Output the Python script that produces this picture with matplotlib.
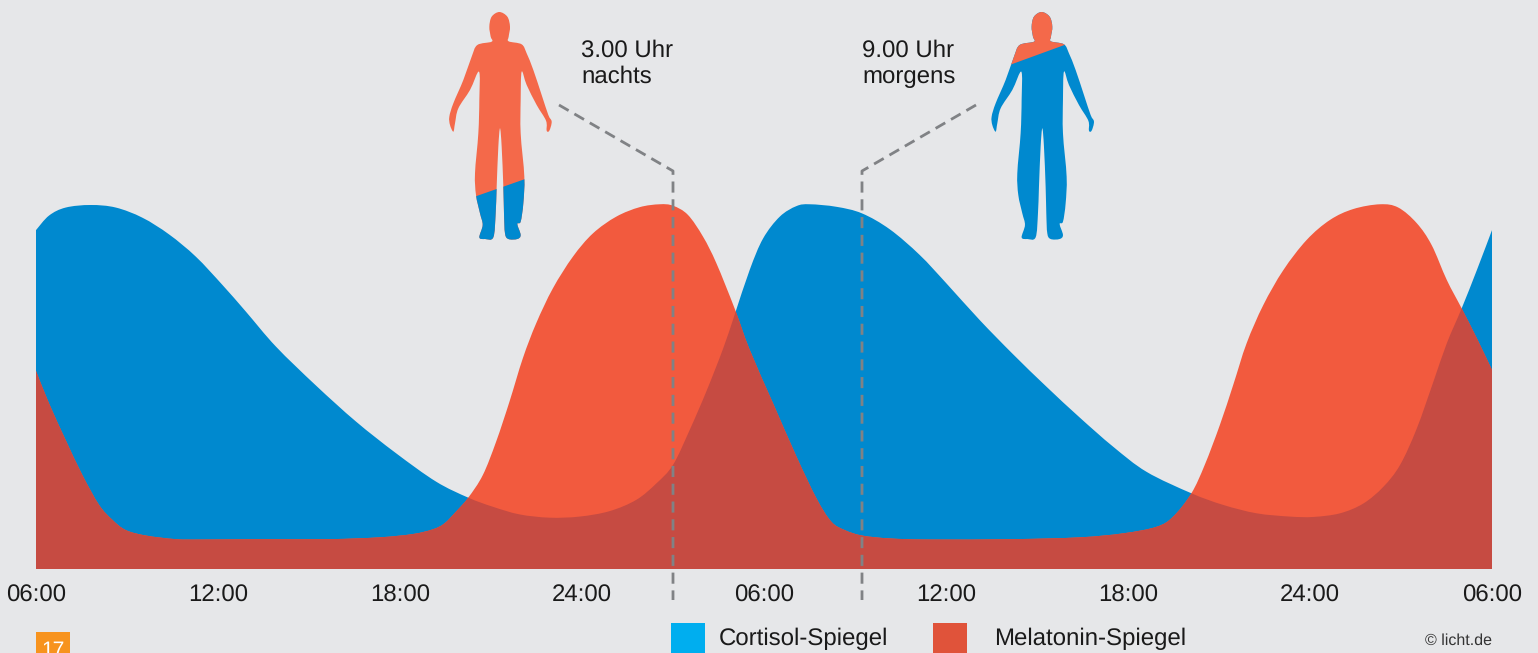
# -*- coding: utf-8 -*-
"""Cortisol- und Melatonin-Spiegel ueber 48 Stunden."""
import matplotlib
matplotlib.use('Agg')
import matplotlib.pyplot as plt
from matplotlib.patches import PathPatch, Rectangle
from matplotlib.path import Path

plt.rcParams['font.family'] = ['Liberation Sans', 'DejaVu Sans']
plt.rcParams['text.hinting'] = 'no_hinting'
plt.rcParams['text.hinting_factor'] = 1

BG = '#E6E7E9'
BLUE = '#0089CF'
RED = '#F25A3E'
OVERLAP = '#C64B42'
BODY_RED = '#F4694A'
DASH = '#808285'
TEXT = '#1A1A1A'

W, H = 1538, 653

# Stunden seit 06:00 / Spiegel in %
cortisol_h = [0, .43, .98, 1.80, 2.63, 3.51, 4.39, 5.27, 6.15, 6.92, 7.91, 9.23, 10.55,
              11.87, 13.19, 14.25, 15.06, 15.94, 16.93, 17.92, 18.91, 19.79, 20.45, 21.0,
              21.55, 22.10, 22.65, 23.03, 23.53, 23.97, 24.52, 25.07, 25.51, 26.39, 27.23,
              28.15, 29.13, 30.01, 31.11, 32.21, 33.31, 34.41, 35.51, 36.61, 38.09, 39.14,
              40.24, 41.34, 42.11, 42.99, 43.76, 44.42, 44.97, 45.52, 46.07, 46.51, 47.0,
              47.5, 48]
cortisol_v = [93.1, 97.1, 99.3, 100, 99.3, 96.5, 91.9, 85.8, 78, 70.7, 61.1, 50.4, 40.5,
              31.8, 24, 19.6, 17.1, 15, 14.1, 14.4, 15.9, 19, 23.5, 28.6,
              38.2, 48.8, 60.5, 69.8, 82.2, 90.8, 96.8, 99.7, 100.2, 99.5, 97.7,
              93.3, 86.3, 78.5, 68.4, 59, 50.1, 41.6, 33.6, 26.7, 20.8, 17.6,
              15.3, 14.4, 14.3, 15.3, 18, 22.6, 28.6, 38.6, 51.5, 62, 71.6,
              82.1, 93.1]

melatonin_h = [0, .43, .98, 1.53, 2.08, 2.52, 2.96, 3.62, 4.61, 5.49, 7.47, 9.67, 11.32,
               12.42, 13.08, 13.46, 13.85, 14.25, 14.73, 15.17, 15.61, 16.05, 16.49, 17.04,
               17.70, 18.36, 19.13, 19.90, 20.56, 21.0, 21.49, 21.99, 22.43, 23.03, 23.53,
               24.30, 25.07, 25.73, 26.22, 26.66, 27.23, 28.15, 29.46, 32.21, 34.41, 35.84,
               36.94, 37.49, 38.09, 38.53, 39.03, 39.47, 39.91, 40.46, 41.12, 41.89, 42.66,
               43.43, 44.31, 44.91, 45.52, 46.01, 46.51, 47.0, 47.5, 48]
melatonin_v = [54.4, 45.5, 35.4, 25.8, 17.6, 13.5, 10.7, 9.2, 8.2, 8.1, 8.2, 8.2, 8.7,
               9.6, 10.9, 12.5, 15.8, 19.6, 25.8, 35, 46, 57.9, 67.5, 77.1,
               85.8, 92.2, 96.8, 99.4, 100.2, 99.8, 97.3, 91.3, 84, 71.6, 60.2,
               45.5, 30.9, 19.4, 13, 10.7, 9.2, 8.4, 8.1, 8.2, 8.7, 9.8,
               11.6, 14.4, 20.8, 28.6, 39.6, 50.6, 62, 72.5, 82.1, 90.4, 95.9,
               98.9, 100.2, 99.3, 95, 89, 79.4, 71.6, 63.4, 54.7]

tick_hours = [0, 6, 12, 18, 24, 30, 36, 42, 48]
tick_labels = ['06:00', '12:00', '18:00', '24:00', '06:00', '12:00', '18:00', '24:00', '06:00']

# Umriss der Figur (Pixel der Vorlage x3, relativ)
body_x = [208, 232, 240, 236, 236, 275, 290, 310, 335, 355, 365, 358, 350, 348, 320, 290,
          275, 272, 272, 283, 280, 272, 262, 272, 262, 235, 225, 222, 220, 215, 210, 205,
          200, 197, 190, 165, 148, 158, 150, 138, 135, 145, 148, 147, 120, 85, 75, 70,
          60, 58, 70, 100, 125, 142, 185, 182, 178, 185]
body_y = [36, 50, 80, 110, 124, 133, 160, 210, 285, 345, 365, 392, 392, 362, 315, 255,
          215, 300, 400, 530, 610, 665, 672, 705, 717, 717, 700, 640, 560, 440, 385, 440,
          560, 640, 712, 717, 712, 675, 640, 585, 520, 400, 300, 215, 270, 325, 370, 395,
          375, 350, 310, 240, 170, 135, 125, 110, 80, 50]


def bezier_segments(pts, closed=False):
    # Catmull-Rom -> kubische Bezier-Stuecke
    n = len(pts)
    verts, codes = [], []
    for i in range(n if closed else n - 1):
        if closed:
            p0, p1, p2, p3 = pts[i - 1], pts[i], pts[(i + 1) % n], pts[(i + 2) % n]
        else:
            p0, p1, p2, p3 = pts[max(i - 1, 0)], pts[i], pts[i + 1], pts[min(i + 2, n - 1)]
        verts += [(p1[0] + (p2[0] - p0[0]) / 6, p1[1] + (p2[1] - p0[1]) / 6),
                  (p2[0] - (p3[0] - p1[0]) / 6, p2[1] - (p3[1] - p1[1]) / 6),
                  p2]
        codes += [Path.CURVE4] * 3
    return verts, codes


def area_path(xs, ys):
    # Flaeche bis zur Nulllinie geschlossen
    v, c = bezier_segments(list(zip(xs, ys)))
    verts = [(xs[0], 0), (xs[0], ys[0])] + v + [(xs[-1], 0), (xs[0], 0)]
    codes = [Path.MOVETO, Path.LINETO] + c + [Path.LINETO, Path.CLOSEPOLY]
    return Path(verts, codes)


def draw_person(ax, left, base_color, part_color, part_poly):
    pts = [(left + x / 3, y / 3) for x, y in zip(body_x, body_y)]
    v, c = bezier_segments(pts, closed=True)
    body = PathPatch(Path([pts[0]] + v, [Path.MOVETO] + c), facecolor=base_color,
                     edgecolor='none', zorder=5)
    ax.add_patch(body)
    part = ax.fill([left + x / 3 for x, _ in part_poly], [y / 3 for _, y in part_poly],
                   color=part_color, lw=0, zorder=6)[0]
    part.set_clip_path(body)


fig = plt.figure(figsize=(W / 100, H / 100), dpi=100, facecolor=BG)

# Hauptachse: 36..1492 px breit, Nulllinie bei y=569
ax = fig.add_axes([36 / W, (H - 569) / H, 1456 / W, 379 / H], facecolor=BG)
ax.set_xlim(0, 48)
ax.set_ylim(0, 379 / 3.64)

cort_path = area_path(cortisol_h, cortisol_v)
mela_path = area_path(melatonin_h, melatonin_v)
ax.add_patch(PathPatch(cort_path, facecolor=BLUE, edgecolor='none', zorder=2))
mela = PathPatch(mela_path, facecolor=RED, edgecolor='none', zorder=3)
ax.add_patch(mela)
over = PathPatch(cort_path, facecolor=OVERLAP, edgecolor='none', zorder=4)
ax.add_patch(over)
over.set_clip_path(mela)

ax.set_yticks([])
ax.set_xticks(tick_hours)
ax.set_xticklabels(tick_labels, fontsize=17.5, color=TEXT)
ax.tick_params(axis='x', length=0, pad=11)
for s in ax.spines.values():
    s.set_visible(False)

# Overlay in Pixelkoordinaten fuer Figuren, Linien, Legende
ov = fig.add_axes([0, 0, 1, 1], facecolor='none')
ov.set_xlim(0, W)
ov.set_ylim(H, 0)
ov.axis('off')

draw_person(ov, 430, BODY_RED, BLUE, [(120, 595), (300, 532), (300, 740), (120, 740)])
draw_person(ov, 972.3, BLUE, BODY_RED, [(90, 203), (290, 130), (290, 20), (90, 20)])

dash = (0, (4, 2.4))
ov.plot([559, 673, 673], [105, 171, 600], color=DASH, lw=2.0, ls=dash, zorder=7)
ov.plot([976, 862, 862], [105, 171, 600], color=DASH, lw=2.0, ls=dash, zorder=7)

ov.text(581, 50.5, '3.00 Uhr', fontsize=17.5, color=TEXT, va='center')
ov.text(581, 77, 'nachts', fontsize=17.5, color=TEXT, va='center')
ov.text(862, 50.5, '9.00 Uhr', fontsize=17.5, color=TEXT, va='center')
ov.text(862, 77, 'morgens', fontsize=17.5, color=TEXT, va='center')

# Legende
ov.add_patch(Rectangle((671, 623), 34, 30, facecolor='#00AEEF', edgecolor='none'))
ov.add_patch(Rectangle((933, 623), 34, 30, facecolor='#E0533A', edgecolor='none'))
ov.text(719, 639, 'Cortisol-Spiegel', fontsize=17.5, color=TEXT, va='center')
ov.text(994, 639, 'Melatonin-Spiegel', fontsize=17.5, color=TEXT, va='center')
ov.text(1425, 641, '© licht.de', fontsize=11.5, color='#333333', va='center')

# Seitenzahl, am unteren Rand abgeschnitten
ov.add_patch(Rectangle((36, 632), 34, 21, facecolor='#F7931E', edgecolor='none'))
ov.text(53, 651, '17', fontsize=15, color='white', ha='center', va='center')

fig.savefig('out.png', dpi=100, facecolor=BG)
